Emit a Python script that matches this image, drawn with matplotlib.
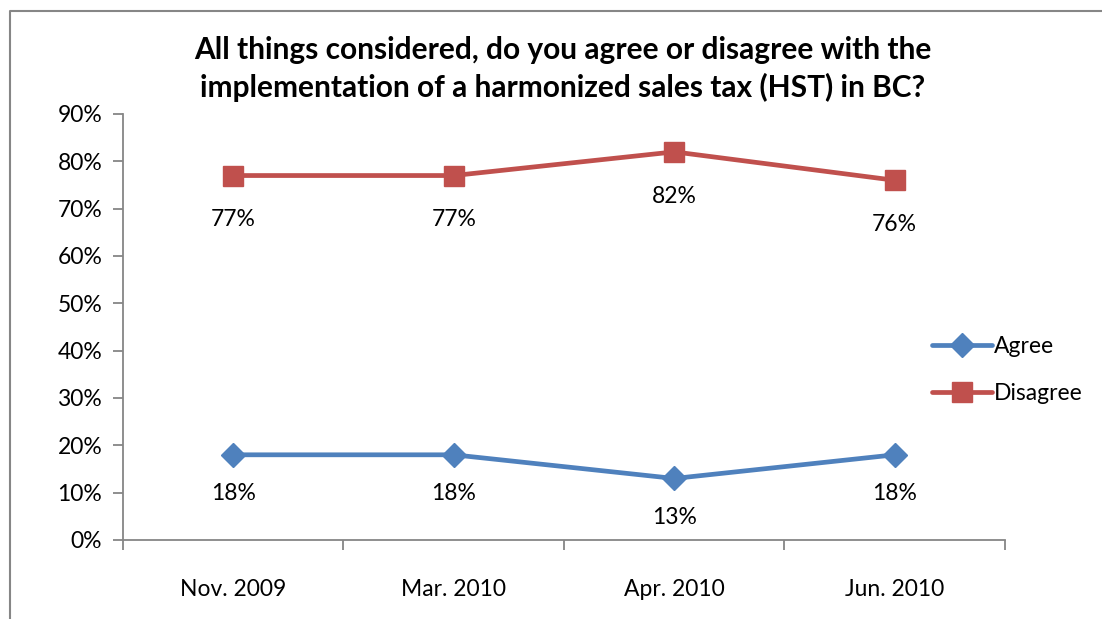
import matplotlib
matplotlib.use("Agg")
import matplotlib.pyplot as plt
from matplotlib.lines import Line2D
from matplotlib.ticker import FixedLocator, NullFormatter

categories = ["Nov. 2009", "Mar. 2010", "Apr. 2010", "Jun. 2010"]
agree = [18, 18, 13, 18]
disagree = [77, 77, 82, 76]
yticks = [0, 10, 20, 30, 40, 50, 60, 70, 80, 90]
title = "All things considered, do you agree or disagree with the\nimplementation of a harmonized sales tax (HST) in BC?"

plt.rcParams['font.family'] = ['Lato', 'DejaVu Sans']

W, H = 1102, 619
fig = plt.figure(figsize=(W/100, H/100), dpi=100)
ax = fig.add_axes([123/W, 1-540/H, (1005-123)/W, (540-114)/H])

x = list(range(1, len(categories)+1))
blue = "#4F81BD"
red = "#C0504D"
ax.plot(x, agree, color=blue, lw=3.4, marker="D", ms=12, label="Agree", solid_capstyle="round")
ax.plot(x, disagree, color=red, lw=3.4, marker="s", ms=15, label="Disagree", solid_capstyle="round")

FS = 16.5
for xi, v in zip(x, agree):
    ax.annotate(f"{v}%", (xi, v), xytext=(0, -28), textcoords="offset points",
                ha="center", va="center", fontsize=FS)
for xi, v in zip(x, disagree):
    ax.annotate(f"{v}%", (xi, v), xytext=(0, -32), textcoords="offset points",
                ha="center", va="center", fontsize=FS)

ax.set_xlim(0.5, len(categories)+0.5)
ax.set_ylim(0, 90)
ax.set_yticks(yticks)
ax.set_yticklabels([f"{t}%" for t in yticks], fontsize=FS)
ax.set_xticks(x)
ax.set_xticklabels(categories, fontsize=FS)
ax.tick_params(axis="x", which="major", length=0, pad=28)
ax.xaxis.set_minor_locator(FixedLocator([i + 0.5 for i in range(len(categories)+1)]))
ax.xaxis.set_minor_formatter(NullFormatter())
ax.tick_params(axis="x", which="minor", length=7, color="#868686", width=1.3)
ax.tick_params(axis="y", length=7, color="#868686", width=1.3, pad=8)
for s in ["top", "right"]:
    ax.spines[s].set_visible(False)
for s in ["left", "bottom"]:
    ax.spines[s].set_color("#868686")
    ax.spines[s].set_linewidth(1.3)

fig.text(563/W, 1-69/H, title, ha="center", va="center", fontsize=21.5,
         fontweight="bold", linespacing=1.4)

leg = ax.legend(loc="center left", bbox_to_anchor=(932/W, 1-370/H), bbox_transform=fig.transFigure,
                frameon=False, fontsize=FS, handlelength=2.6, handletextpad=0.1,
                labelspacing=1.15, borderaxespad=0, borderpad=0)

fig.add_artist(Line2D([10/W, 10/W, 1.0], [0.0, 1-11/H, 1-11/H], transform=fig.transFigure,
                      color="#868686", lw=1.5))

fig.savefig("out.png", dpi=100)
